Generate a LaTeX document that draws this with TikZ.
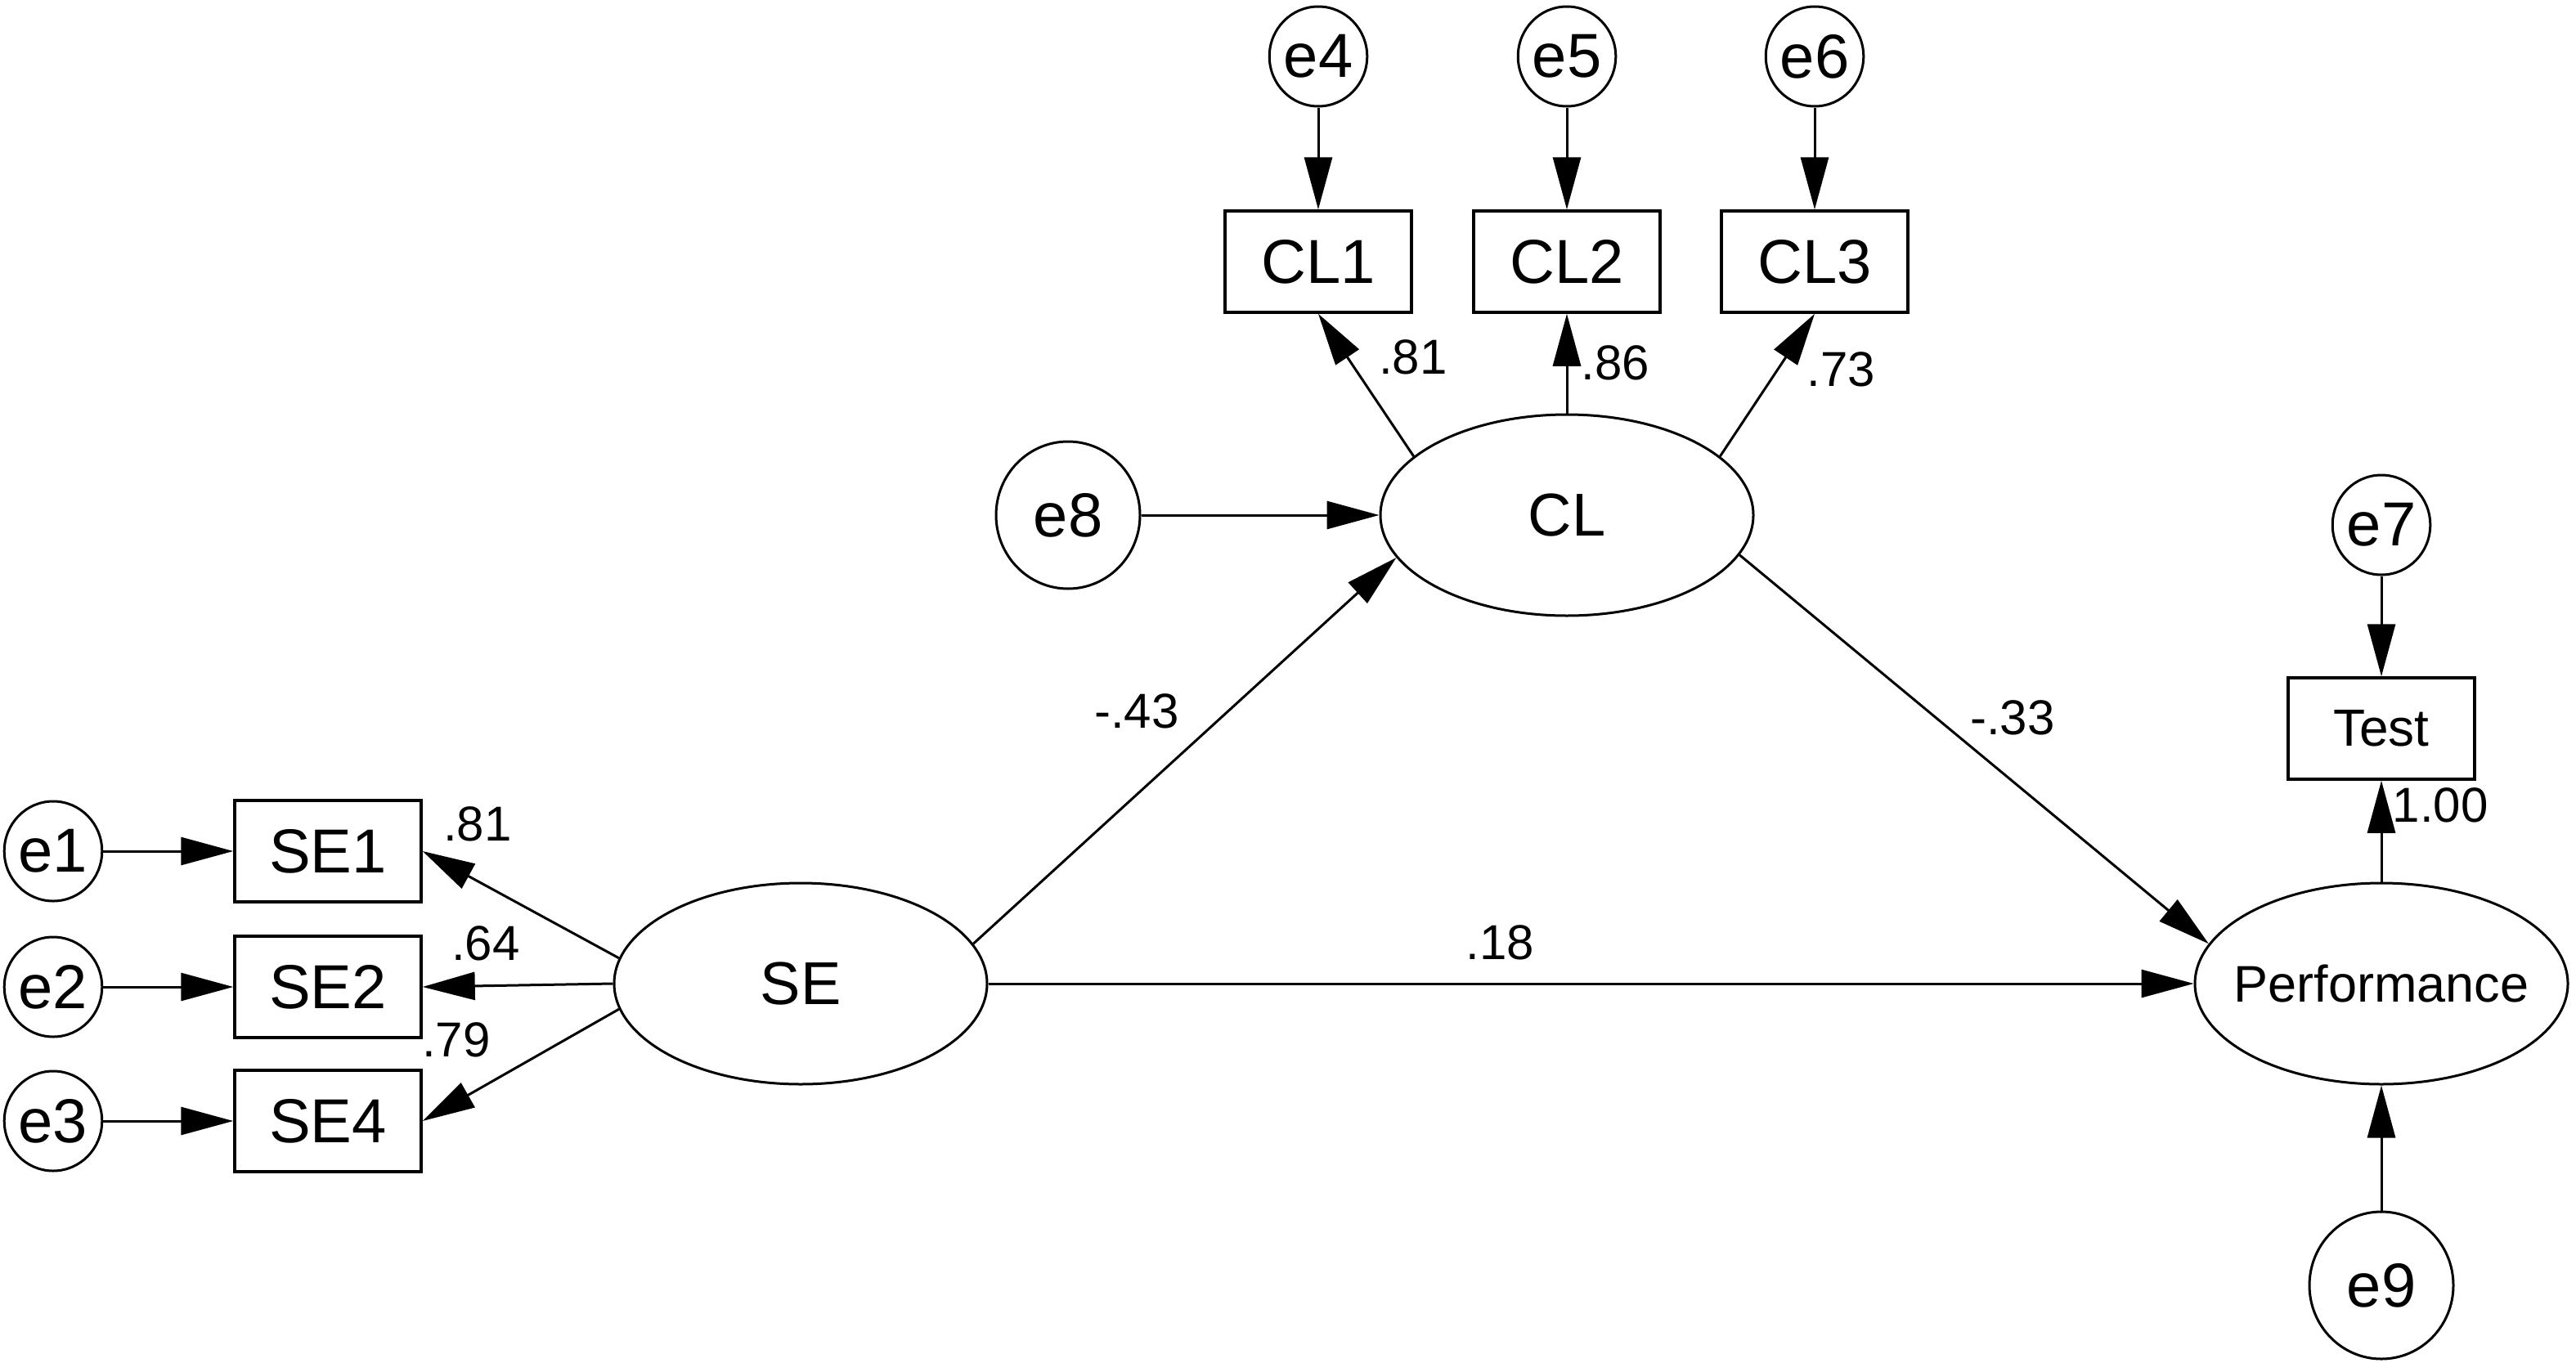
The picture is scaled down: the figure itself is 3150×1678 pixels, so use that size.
\documentclass[tikz,border=0pt]{standalone}
\usepackage{fontspec}
\setmainfont{Liberation Sans}
\usetikzlibrary{shapes.geometric,arrows.meta}
\begin{document}
\begin{tikzpicture}[x=1pt,y=-1pt,
  err/.style={draw, ellipse, line width=3pt, minimum width=116pt, minimum height=122pt, inner sep=0pt, font=\fontsize{76}{80}\selectfont},
  bigerr/.style={err, minimum width=176pt, minimum height=180pt},
  obs/.style={draw, rectangle, line width=3.5pt, minimum width=228pt, minimum height=124pt, inner sep=0pt, font=\fontsize{76}{80}\selectfont},
  lat/.style={draw, ellipse, line width=3pt, minimum width=456pt, minimum height=246pt, inner sep=0pt, font=\fontsize{74}{80}\selectfont},
  coef/.style={inner sep=0pt, font=\fontsize{60}{64}\selectfont},
  conn/.style={line width=3pt, -{Triangle[length=64pt,width=34pt]}},
]
\useasboundingbox (0,0) rectangle (3150,1678);

% error terms and indicators of SE
\node[err] (e1) at (65,1041) {e1};
\node[err] (e2) at (65,1207) {e2};
\node[err] (e3) at (65,1371) {e3};
\node[obs] (SE1) at (401,1041) {SE1};
\node[obs] (SE2) at (401,1207) {SE2};
\node[obs] (SE4) at (401,1371) {SE4};
\node[lat] (SE) at (979,1203) {SE};

% CL block
\node[err] (e4) at (1612,69) {e4};
\node[err] (e5) at (1916,69) {e5};
\node[err] (e6) at (2219,69) {e6};
\node[obs] (CL1) at (1612,320) {CL1};
\node[obs] (CL2) at (1916,320) {CL2};
\node[obs] (CL3) at (2219,320) {CL3};
\node[lat] (CL) at (1916,630) {CL};
\node[bigerr] (e8) at (1306,630) {e8};

% Performance block
\node[err] (e7) at (2912,642) {e7};
\node[obs, font=\fontsize{64}{68}\selectfont] (Test) at (2912,891) {Test};
\node[lat, inner xsep=-30pt, font=\fontsize{63}{68}\selectfont] (Perf) at (2912,1203) {Performance};
\node[bigerr] (e9) at (2912,1572) {e9};

% connectors
\draw[conn] (e1) -- (SE1);
\draw[conn] (e2) -- (SE2);
\draw[conn] (e3) -- (SE4);
\draw[conn] (SE.172) -- (SE1.east);
\draw[conn] (SE.180) -- (SE2.east);
\draw[conn] (SE.188) -- (SE4.east);

\draw[conn] (e4) -- (CL1);
\draw[conn] (e5) -- (CL2);
\draw[conn] (e6) -- (CL3);
\draw[conn] (CL.159) -- (CL1.south);
\draw[conn] (CL.north) -- (CL2.south);
\draw[conn] (CL.21) -- (CL3.south);
\draw[conn] (e8) -- (CL);

\draw[conn] (SE.13) -- (CL.194);
\draw[conn] (CL.347) -- (Perf.167);
\draw[conn] (SE) -- (Perf);

\draw[conn] (e7) -- (Test);
\draw[conn] (Perf) -- (Test);
\draw[conn] (e9) -- (Perf);

% coefficients
\node[coef] (l1) at (584,1008) {.81};
\node[coef] (l2) at (594,1154) {.64};
\node[coef] (l3) at (558,1272) {.79};
\node[coef] (l4) at (1728,437) {.81};
\node[coef] (l5) at (1975,444) {.86};
\node[coef] (l6) at (2251,452) {.73};
\node[coef] (l7) at (1390,870) {-.43};
\node[coef] (l8) at (2461,878) {-.33};
\node[coef] (l9) at (1834,1153) {.18};
\node[coef] (l10) at (2984,985) {1.00};
\end{tikzpicture}
\end{document}
